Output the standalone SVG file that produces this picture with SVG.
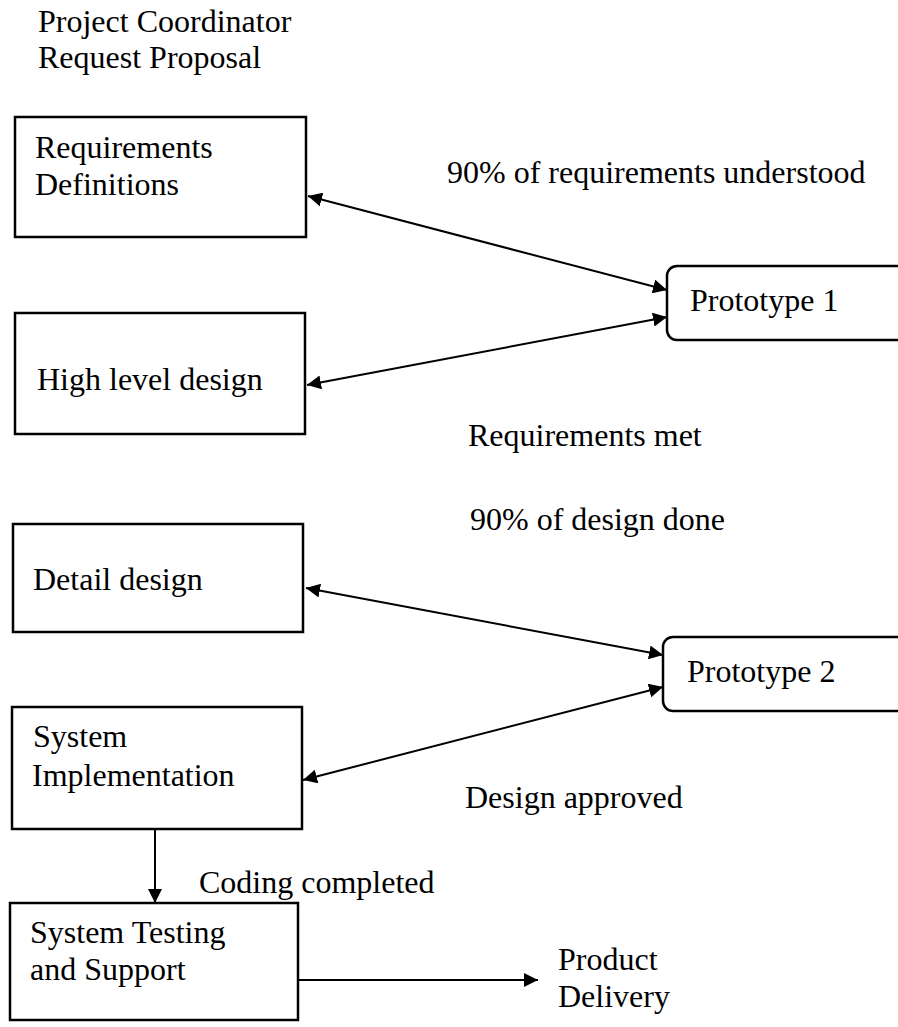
<svg xmlns="http://www.w3.org/2000/svg" width="898" height="1027" viewBox="0 0 898 1027">
<defs>
<style>
text{font-family:"Liberation Serif","Times New Roman",serif;font-size:32px;fill:#000}
.box{fill:#fff;stroke:#000;stroke-width:2.5}
.ln{stroke:#000;stroke-width:2;fill:none}
</style>
<marker id="ah2" viewBox="0 0 10 10" refX="10" refY="5" markerWidth="7" markerHeight="7" orient="auto-start-reverse"><path d="M0,0 L10,5 L0,10 z" fill="#000"/></marker>
</defs>
<rect width="898" height="1027" fill="#fff"/>
<g id="title">
<text x="38" y="32">Project Coordinator</text>
<text x="38" y="68">Request Proposal</text>
</g>
<g id="connectors">
<line class="ln" x1="308" y1="196" x2="667" y2="290" marker-start="url(#ah2)" marker-end="url(#ah2)"/>
<line class="ln" x1="307" y1="385" x2="667" y2="317" marker-start="url(#ah2)" marker-end="url(#ah2)"/>
<line class="ln" x1="306" y1="588" x2="663" y2="655" marker-start="url(#ah2)" marker-end="url(#ah2)"/>
<line class="ln" x1="303" y1="780" x2="663" y2="687" marker-start="url(#ah2)" marker-end="url(#ah2)"/>
<line class="ln" x1="155" y1="829" x2="155" y2="903" marker-end="url(#ah2)"/>
<line class="ln" x1="298" y1="980" x2="538" y2="980" marker-end="url(#ah2)"/>
<text x="447" y="183">90% of requirements understood</text>
<text x="468" y="446">Requirements met</text>
<text x="470" y="530">90% of design done</text>
<text x="465" y="808">Design approved</text>
<text x="199" y="893">Coding completed</text>
<text x="558" y="970">Product</text>
<text x="558" y="1007">Delivery</text>
</g>
<g id="req">
<rect class="box" x="15" y="117" width="291" height="120"/>
<text x="35" y="158">Requirements</text>
<text x="35" y="195">Definitions</text>
</g>
<g id="high">
<rect class="box" x="15" y="313" width="290" height="121"/>
<text x="37" y="390">High level design</text>
</g>
<g id="proto1">
<rect class="box" x="667" y="266" width="245" height="74" rx="10"/>
<text x="690" y="311">Prototype 1</text>
</g>
<g id="detail">
<rect class="box" x="13" y="524" width="290" height="108"/>
<text x="33" y="590">Detail design</text>
</g>
<g id="proto2">
<rect class="box" x="663" y="637" width="250" height="74" rx="10"/>
<text x="687" y="682">Prototype 2</text>
</g>
<g id="impl">
<rect class="box" x="12" y="707" width="290" height="122"/>
<text x="33" y="747">System</text>
<text x="32" y="786">Implementation</text>
</g>
<g id="test">
<rect class="box" x="10" y="903" width="288" height="117"/>
<text x="30" y="943">System Testing</text>
<text x="30" y="980">and Support</text>
</g>
</svg>
